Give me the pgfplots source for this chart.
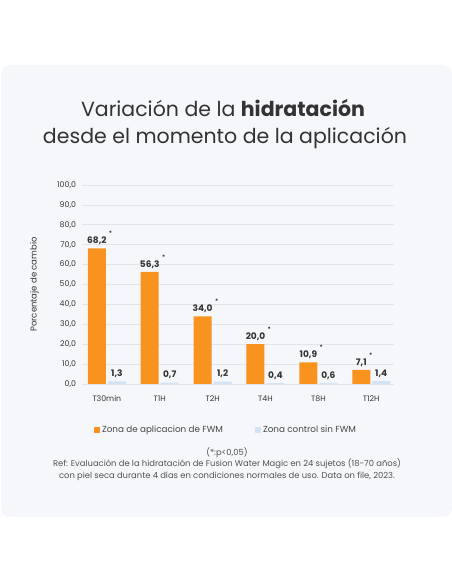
\documentclass[border=0pt]{standalone}
\usepackage{fontspec}
\setmainfont{Poppins}
\usepackage{pgfplots}
\pgfplotsset{compat=1.18}
\definecolor{card}{HTML}{F6F7FA}
\definecolor{orng}{HTML}{F7931E}
\definecolor{lblue}{HTML}{D3E2F5}
\definecolor{txt}{HTML}{333333}
\definecolor{gridc}{HTML}{E3E5EA}
\begin{document}
\begin{tikzpicture}
\useasboundingbox (0pt,0pt) rectangle (452pt,584pt);
\fill[white] (0pt,0pt) rectangle (452pt,584pt);
\fill[card, rounded corners=9pt] (1pt,67pt) rectangle (452pt,519pt);
\node[text=txt, font=\fontsize{20.5}{24}\selectfont] at (223pt,476pt) {Variación de la \textbf{hidratación}};
\node[text=txt, font=\fontsize{20.5}{24}\selectfont] at (225pt,446pt) {desde el momento de la aplicación};
\begin{axis}[
  at={(82pt,200pt)}, anchor=south west, scale only axis,
  width=312pt, height=199pt,
  ymin=0, ymax=100, ytick={0,10,...,100},
  xmin=-0.47, xmax=5.43, xtick={0,1,2,3,4,5},
  xticklabels={T30min,T1H,T2H,T4H,T8H,T12H},
  ymajorgrids, grid style={gridc, line width=0.7pt},
  axis line style={draw=none}, tick style={draw=none},
  ybar=2pt, bar width=18pt,
  /pgf/number format/assume math mode=true,
  yticklabel style={font=\fontsize{7.8}{9}\selectfont, text=txt, xshift=-2.5pt, /pgf/number format/.cd, fixed, fixed zerofill, precision=1, use comma},
  xticklabel style={font=\fontsize{7.8}{9}\selectfont, text=txt, yshift=-4pt},
  ylabel={Porcentaje de cambio},
  ylabel style={at={(axis description cs:-0.152,0.5)}, anchor=center, font=\fontsize{8.5}{10}\selectfont, text=txt},
  legend style={at={(axis description cs:0.4615,-0.231)}, anchor=center, legend columns=2, draw=none, fill=none, font=\fontsize{8.8}{10}\selectfont, text=txt!90, /tikz/every even column/.append style={column sep=30pt}},
  legend image code/.code={\fill[#1] (0pt,-3pt) rectangle (6pt,3pt);},
  every node near coord/.append style={font=\bfseries\fontsize{9}{10}\selectfont, text=txt},
]
\addplot[fill=orng, draw=none, nodes near coords={\pgfmathprintnumber[fixed,fixed zerofill,precision=1,use comma]{\pgfplotspointmeta}\rlap{\hspace{2.5pt}\raisebox{8pt}{\fontsize{6}{6}\selectfont *}}}]
  coordinates {(0,68.2) (1,56.3) (2,34.0) (3,20.0) (4,10.9) (5,7.1)};
\addplot[fill=lblue, draw=none, nodes near coords={\pgfmathprintnumber[fixed,fixed zerofill,precision=1,use comma]{\pgfplotspointmeta}}]
  coordinates {(0,1.3) (1,0.7) (2,1.2) (3,0.4) (4,0.6) (5,1.4)};
\legend{Zona de aplicacion de FWM, Zona control sin FWM}
\end{axis}
\node[text=txt!85, align=center, font=\fontsize{8.4}{11.6}\selectfont] at (227pt,120pt) {(*:p<0,05)\\Ref: Evaluación de la hidratación de Fusion Water Magic en 24 sujetos (18-70 años)\\con piel seca durante 4 días en condiciones normales de uso. Data on file, 2023.};
\end{tikzpicture}
\end{document}
